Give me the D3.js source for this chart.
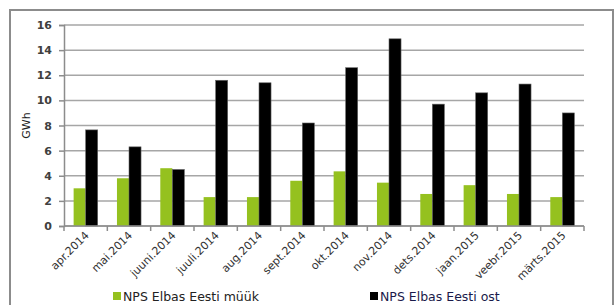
<!DOCTYPE html>
<html lang="et">
<head>
<meta charset="utf-8">
<script src="https://d3js.org/d3.v7.min.js"></script>
<style>
  body { margin: 0; background: #fff; }
  text { font-family: "DejaVu Sans", Verdana, sans-serif; }
</style>
</head>
<body>
<div id="chart"></div>
<script>
// andmed (GWh)
var months = ["apr.2014", "mai.2014", "juuni.2014", "juuli.2014", "aug.2014", "sept.2014",
              "okt.2014", "nov.2014", "dets.2014", "jaan.2015", "veebr.2015", "märts.2015"];
var sales = [3.0, 3.8, 4.6, 2.3, 2.3, 3.6, 4.35, 3.45, 2.55, 3.25, 2.55, 2.3];
var purchases = [7.65, 6.3, 4.5, 11.6, 11.4, 8.2, 12.6, 14.9, 9.7, 10.6, 11.3, 9.0];
var seriesNames = ["NPS Elbas Eesti müük", "NPS Elbas Eesti ost"];
var seriesColors = ["#95c11f", "#000000"];
var yTicks = [0, 2, 4, 6, 8, 10, 12, 14, 16];

var w = 616, h = 305;
var plotL = 64, plotR = 584, plotT = 25, plotB = 226;

var svg = d3.select("#chart").append("svg")
  .attr("width", w)
  .attr("height", h);

// ümbris
svg.append("rect")
  .attr("x", 10).attr("y", 10)
  .attr("width", 603).attr("height", 310)
  .attr("fill", "none")
  .attr("stroke", "#8c8c8c")
  .attr("stroke-width", 2);

var x = d3.scaleBand().domain(months).range([plotL, plotR]).paddingInner(0).paddingOuter(0);
var xs = d3.scaleBand().domain([0, 1]).range([0, x.bandwidth()]).paddingOuter(0.8).paddingInner(0);
var y = d3.scaleLinear().domain([0, 16]).range([plotB, plotT]);

// ruudustik
svg.append("g")
  .selectAll("line")
  .data(yTicks)
  .enter().append("line")
  .attr("x1", plotL).attr("x2", plotR)
  .attr("y1", function(d) { return y(d); })
  .attr("y2", function(d) { return y(d); })
  .attr("stroke", "#a6a6a6")
  .attr("stroke-width", 1.5);

// y-telg
var yAxis = svg.append("g")
  .attr("transform", "translate(" + plotL + ",0)")
  .call(d3.axisLeft(y).tickValues(yTicks).tickSize(5).tickPadding(7));
yAxis.select(".domain").attr("stroke", "#8c8c8c").attr("stroke-width", 1.5);
yAxis.selectAll(".tick line").attr("stroke", "#8c8c8c").attr("stroke-width", 1.5);
yAxis.selectAll(".tick text")
  .attr("font-size", 11)
  .attr("font-weight", "bold")
  .attr("fill", "#404040");

svg.append("text")
  .attr("transform", "translate(30," + ((plotT + plotB) / 2) + ") rotate(-90)")
  .attr("text-anchor", "middle")
  .attr("font-size", 11)
  .attr("fill", "#222")
  .text("GWh");

// tulbad
var groups = svg.append("g")
  .selectAll("g")
  .data(months)
  .enter().append("g")
  .attr("transform", function(d) { return "translate(" + x(d) + ",0)"; });

groups.append("rect")
  .attr("x", xs(0))
  .attr("width", xs.bandwidth())
  .attr("y", function(d, i) { return y(sales[i]); })
  .attr("height", function(d, i) { return plotB - y(sales[i]); })
  .attr("fill", seriesColors[0]);

groups.append("rect")
  .attr("x", xs(1))
  .attr("width", xs.bandwidth())
  .attr("y", function(d, i) { return y(purchases[i]); })
  .attr("height", function(d, i) { return plotB - y(purchases[i]); })
  .attr("fill", seriesColors[1])
  .attr("stroke", "#666")
  .attr("stroke-width", 0.6);

// x-telg
var xAxis = svg.append("g")
  .attr("transform", "translate(0," + plotB + ")");
xAxis.append("line")
  .attr("x1", plotL).attr("x2", plotR)
  .attr("stroke", "#8c8c8c").attr("stroke-width", 1.5);
xAxis.selectAll("line.tk")
  .data(months.concat(["end"]))
  .enter().append("line")
  .attr("class", "tk")
  .attr("x1", function(d, i) { return plotL + i * x.step(); })
  .attr("x2", function(d, i) { return plotL + i * x.step(); })
  .attr("y1", 0).attr("y2", 5)
  .attr("stroke", "#8c8c8c").attr("stroke-width", 1.5);
xAxis.selectAll("text.lbl")
  .data(months)
  .enter().append("text")
  .attr("class", "lbl")
  .attr("transform", function(d) {
    return "translate(" + (x(d) + x.bandwidth() / 2 + 4) + ",10) rotate(-45)";
  })
  .attr("text-anchor", "end")
  .attr("font-size", 11)
  .attr("fill", "#333")
  .text(function(d) { return d; });

// legend
var legendX = [113, 370];
var legend = svg.selectAll("g.legend")
  .data(seriesNames)
  .enter().append("g")
  .attr("class", "legend")
  .attr("transform", function(d, i) { return "translate(" + legendX[i] + ",292)"; });
legend.append("rect")
  .attr("width", 8).attr("height", 8)
  .attr("fill", function(d, i) { return seriesColors[i]; });
legend.append("text")
  .attr("x", 10).attr("y", 9)
  .attr("font-size", 12.5)
  .attr("fill", function(d, i) { return i === 0 ? "#222" : "#1a1a4a"; })
  .text(function(d) { return d; });
</script>
</body>
</html>
